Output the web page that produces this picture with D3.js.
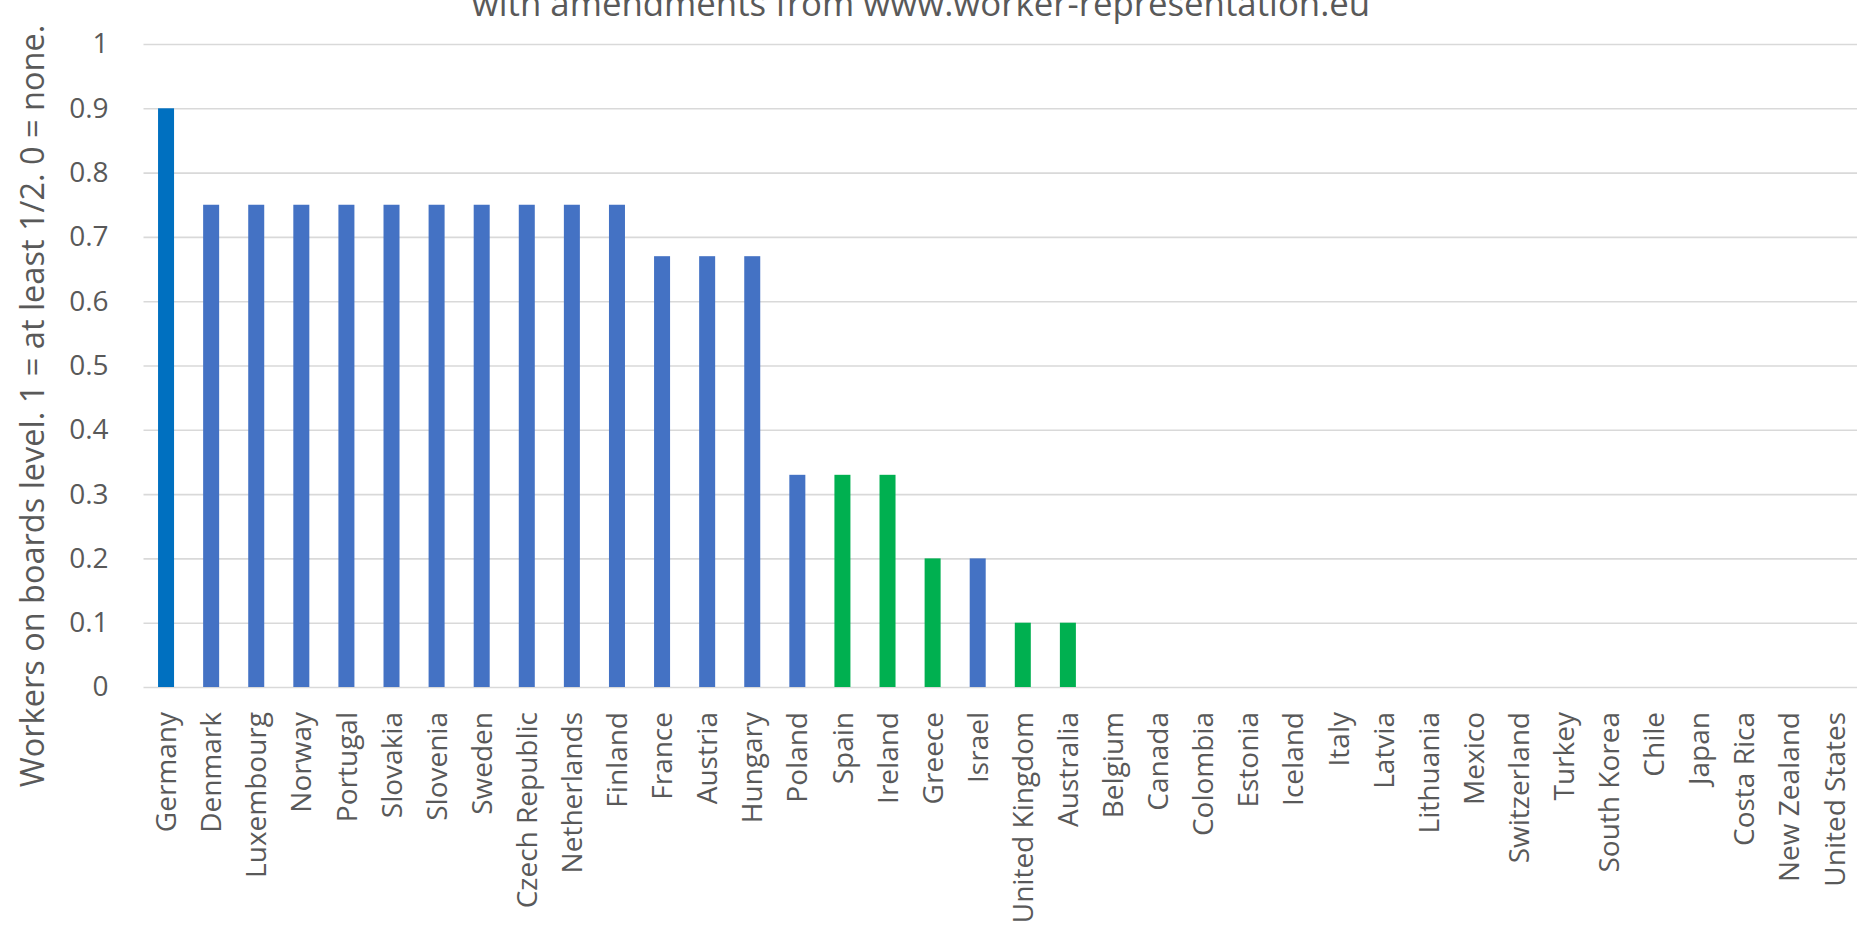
<!DOCTYPE html>
<html>
<head>
<meta charset="utf-8">
<script src="https://cdn.jsdelivr.net/npm/d3@7"></script>
<style>
  html, body { margin: 0; padding: 0; background: #ffffff; }
  svg { display: block; }
  text { font-family: "Open Sans", "Noto Sans", sans-serif; fill: #595959; }
</style>
</head>
<body>
<svg id="chart" width="1862" height="945"></svg>
<script>
// Board-level worker representation by country
const countries = [
  "Germany", "Denmark", "Luxembourg", "Norway", "Portugal", "Slovakia", "Slovenia",
  "Sweden", "Czech Republic", "Netherlands", "Finland", "France", "Austria", "Hungary",
  "Poland", "Spain", "Ireland", "Greece", "Israel", "United Kingdom", "Australia",
  "Belgium", "Canada", "Colombia", "Estonia", "Iceland", "Italy", "Latvia", "Lithuania",
  "Mexico", "Switzerland", "Turkey", "South Korea", "Chile", "Japan", "Costa Rica",
  "New Zealand", "United States"
];
const values = [
  0.9, 0.75, 0.75, 0.75, 0.75, 0.75, 0.75,
  0.75, 0.75, 0.75, 0.75, 0.67, 0.67, 0.67,
  0.33, 0.33, 0.33, 0.2, 0.2, 0.1, 0.1,
  0, 0, 0, 0, 0, 0, 0, 0,
  0, 0, 0, 0, 0, 0, 0,
  0, 0
];
// source group of each value: base data, amended entries, and the lead country
const groups = [
  "lead", "base", "base", "base", "base", "base", "base",
  "base", "base", "base", "base", "base", "base", "base",
  "base", "amended", "amended", "amended", "base", "amended", "amended",
  "base", "base", "base", "base", "base", "base", "base", "base",
  "base", "base", "base", "base", "base", "base", "base",
  "base", "base"
];
const yTicks = [0, 0.1, 0.2, 0.3, 0.4, 0.5, 0.6, 0.7, 0.8, 0.9, 1];
const yTickLabels = ["0", "0.1", "0.2", "0.3", "0.4", "0.5", "0.6", "0.7", "0.8", "0.9", "1"];
const titleText = "with amendments from www.worker-representation.eu";
const yAxisTitle = "Workers on boards level. 1 = at least 1/2. 0 = none.";

const data = countries.map((c, i) => ({ country: c, value: values[i], group: groups[i] }));
const colour = d3.scaleOrdinal()
  .domain(["lead", "base", "amended"])
  .range(["#0070C0", "#4472C4", "#00B050"]);

const svg = d3.select("#chart");
const plot = { left: 143.5, right: 1857, top: 44, bottom: 687 };

const x = d3.scaleBand()
  .domain(countries)
  .range([plot.left, plot.right])
  .paddingInner(0.645)
  .paddingOuter(0.3225);

const y = d3.scaleLinear()
  .domain([0, 1])
  .range([plot.bottom, plot.top]);

// horizontal gridlines and value labels
const yAxis = d3.axisLeft(y)
  .tickValues(yTicks)
  .tickFormat((d, i) => yTickLabels[i])
  .tickSize(-(plot.right - plot.left))
  .tickPadding(35);

const gy = svg.append("g")
  .attr("transform", `translate(${plot.left},0)`)
  .call(yAxis);
gy.select(".domain").remove();
gy.selectAll(".tick line")
  .attr("stroke", "#d9d9d9")
  .attr("stroke-width", 1.6);
gy.selectAll(".tick text")
  .attr("fill", "#595959")
  .style("font-size", "28px")
  .style("font-family", "'Open Sans', sans-serif");

// bars
svg.append("g")
  .selectAll("rect")
  .data(data)
  .join("rect")
  .attr("x", d => x(d.country))
  .attr("y", d => y(d.value))
  .attr("width", x.bandwidth())
  .attr("height", d => y(0) - y(d.value))
  .attr("fill", d => colour(d.group));

// category labels, rotated
const xAxis = d3.axisBottom(x).tickSize(0).tickPadding(0);
const gx = svg.append("g")
  .attr("transform", `translate(0,${plot.bottom})`)
  .call(xAxis);
gx.select(".domain").remove();
gx.selectAll(".tick text")
  .attr("fill", "#595959")
  .style("font-size", "28px")
  .style("font-family", "'Open Sans', sans-serif")
  .attr("text-anchor", "end")
  .attr("transform", "rotate(-90)")
  .attr("x", -25)
  .attr("y", 0)
  .attr("dy", "0.36em");

// title line (continues a heading above the visible area)
svg.append("text")
  .attr("x", 921)
  .attr("y", 16)
  .attr("text-anchor", "middle")
  .style("font-size", "34.8px")
  .text(titleText);

// y axis title
svg.append("text")
  .attr("transform", "translate(44,406) rotate(-90)")
  .attr("text-anchor", "middle")
  .style("font-size", "32.5px")
  .text(yAxisTitle);
</script>
</body>
</html>
